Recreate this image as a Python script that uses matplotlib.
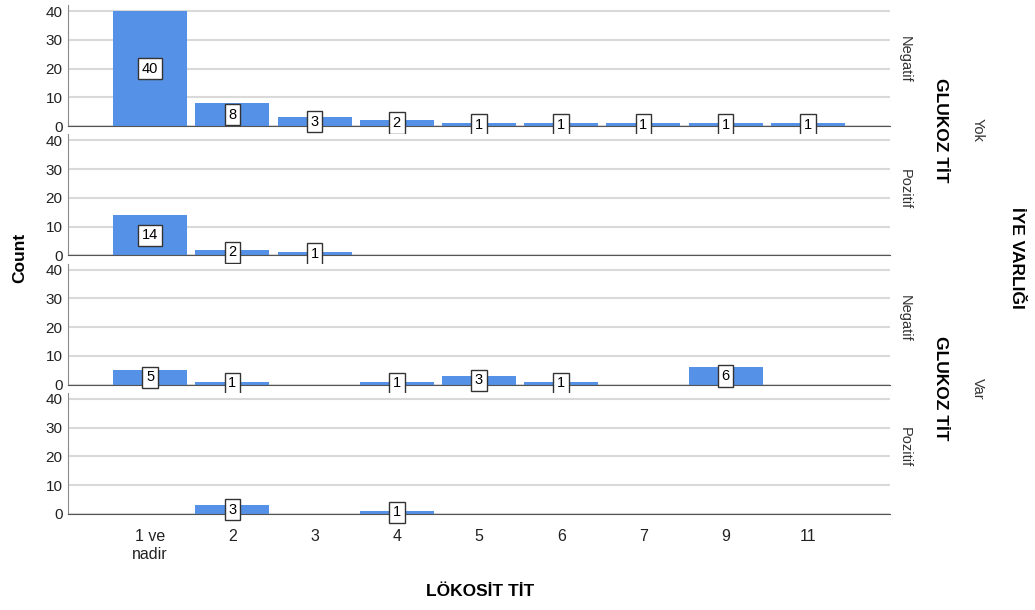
import matplotlib.pyplot as plt
import numpy as np

plt.rcParams['font.family'] = ['Liberation Sans', 'DejaVu Sans']

categories = ['1 ve\nnadir', '2', '3', '4', '5', '6', '7', '9', '11']
yok_negatif = [40, 8, 3, 2, 1, 1, 1, 1, 1]
yok_pozitif = [14, 2, 1, 0, 0, 0, 0, 0, 0]
var_negatif = [5, 1, 0, 1, 3, 1, 0, 6, 0]
var_pozitif = [0, 3, 0, 1, 0, 0, 0, 0, 0]
panels = [yok_negatif, yok_pozitif, var_negatif, var_pozitif]
glukoz_labels = ['Negatif', 'Pozitif', 'Negatif', 'Pozitif']
iye_labels = ['Yok', 'Var']

bar_color = '#5591e6'
W, H = 1035, 610
fig = plt.figure(figsize=(W / 100, H / 100), dpi=100)

left_px, right_px = 68, 890
x = np.arange(len(categories))
axes = []
for i, vals in enumerate(panels):
    bottom_px = 126 + 129.3 * i
    top_px = bottom_px - 121
    ax = fig.add_axes([left_px / W, 1 - bottom_px / H,
                       (right_px - left_px) / W, (bottom_px - top_px) / H])
    ax.set_xlim(-1, 9)
    ax.set_ylim(0, 42.1)
    ax.set_yticks([0, 10, 20, 30, 40])
    ax.yaxis.grid(True, color='#d9d9d9', linewidth=1.5)
    ax.set_axisbelow(True)
    for s in ['top', 'right']:
        ax.spines[s].set_visible(False)
    ax.spines['left'].set_color('#8a8a8a')
    ax.spines['bottom'].set_color('#555555')
    ax.spines['bottom'].set_zorder(4)
    ax.tick_params(axis='y', length=0, labelsize=11, pad=4, colors='#222222')
    ax.tick_params(axis='x', length=0)
    for xi, v in zip(x, vals):
        if v <= 0:
            continue
        ax.bar(xi, v, width=0.9, color=bar_color, zorder=2)
        ax.text(xi, v / 2, str(v), ha='center', va='center', fontsize=10.5,
                zorder=5,
                bbox=dict(boxstyle='square,pad=0.25', fc='white',
                          ec='#333333', lw=1))
    if i < 3:
        ax.set_xticks([])
    else:
        ax.set_xticks(x)
        ax.set_xticklabels(categories, fontsize=11.5, color='#222222',
                           linespacing=1.25)
        ax.tick_params(axis='x', pad=11)
    # glukoz level label
    ax.text(1.018, 0.55, glukoz_labels[i], transform=ax.transAxes,
            rotation=270, ha='center', va='center', fontsize=10.5,
            color='#333333')
    axes.append(ax)

# group labels on the right
for g in range(2):
    yc = 1 - (130 + 258.6 * g) / H
    fig.text(941 / W, yc, 'GLUKOZ TİT', rotation=270, ha='center',
             va='center', fontsize=12.5, fontweight='bold')
    fig.text(978 / W, yc, iye_labels[g], rotation=270, ha='center',
             va='center', fontsize=10.5, color='#333333')
fig.text(1016 / W, 1 - 258 / H, 'İYE VARLIĞI', rotation=270, ha='center',
         va='center', fontsize=12.5, fontweight='bold')

fig.text(20 / W, 1 - 258 / H, 'Count', rotation=90, ha='center',
         va='center', fontsize=12.5, fontweight='bold')
fig.text(480 / W, 1 - 592 / H, 'LÖKOSİT TİT', ha='center', va='center',
         fontsize=12.5, fontweight='bold')

fig.savefig('out.png', dpi=100)
